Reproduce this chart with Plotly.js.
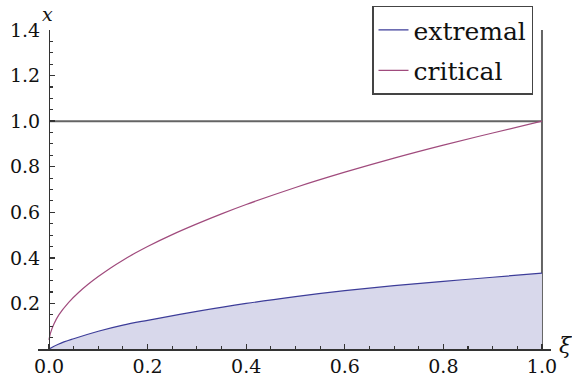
<!DOCTYPE html>
<html>
<head>
<meta charset="utf-8">
<script src="https://cdn.plot.ly/plotly-3.0.1.min.js"></script>
<style>html,body{margin:0;padding:0;background:#fff;}#chart{width:572px;height:381px;}</style>
</head>
<body>
<div id="chart"></div>
<script>
// ---- data ----
var xiCritical = [0, 0.003, 0.01, 0.02, 0.04, 0.06, 0.08, 0.1, 0.125, 0.15, 0.175, 0.2, 0.25, 0.3, 0.35, 0.4, 0.5, 0.6, 0.7, 0.8, 0.9, 1.0];
var critical   = [0.04, 0.07, 0.11, 0.15, 0.205, 0.248, 0.285, 0.318, 0.356, 0.390, 0.421, 0.450, 0.502, 0.549, 0.593, 0.634, 0.709, 0.776, 0.838, 0.895, 0.948, 1.0];
var xiExtremal = [0, 0.02, 0.05, 0.1, 0.15, 0.2, 0.3, 0.4, 0.5, 0.6, 0.7, 0.8, 0.9, 1.0];
var extremal   = [0.0, 0.022, 0.045, 0.078, 0.105, 0.126, 0.165, 0.200, 0.230, 0.256, 0.278, 0.297, 0.315, 0.333];
var seriesNames = ["extremal", "critical"];
var xTickVals = [0, 0.2, 0.4, 0.6, 0.8, 1.0];
var xTickText = ["0.0", "0.2", "0.4", "0.6", "0.8", "1.0"];
var yTickVals = [0.2, 0.4, 0.6, 0.8, 1.0, 1.2, 1.4];
var yTickText = ["0.2", "0.4", "0.6", "0.8", "1.0", "1.2", "1.4"];
var refLevel = 1.0;

var blue = "rgb(61,61,153)";
var pink = "rgb(160,75,125)";
var serif = "DejaVu Serif";

var traces = [
  {x: xiExtremal, y: extremal, mode: "lines", fill: "tozeroy",
   fillcolor: "rgb(216,216,235)", line: {width: 0, color: blue, shape: "spline"},
   showlegend: false, hoverinfo: "skip"},
  {x: xiExtremal, y: extremal, mode: "lines", name: seriesNames[0], legendgroup: "a",
   line: {color: blue, width: 1.2, shape: "spline"}},
  {x: xiCritical, y: critical, mode: "lines", name: seriesNames[1], legendgroup: "b",
   line: {color: pink, width: 1.2, shape: "spline"}}
];

var xr = [-0.0223, 1.0183];
var layout = {
  width: 572, height: 381,
  margin: {l: 38, r: 21, t: 29.5, b: 32, pad: 0, autoexpand: false},
  paper_bgcolor: "#fff", plot_bgcolor: "rgba(0,0,0,0)",
  font: {family: serif, size: 19, color: "#111"},
  xaxis: {
    range: xr, showgrid: false, zeroline: false,
    showline: true, linecolor: "#333", linewidth: 1.5,
    tickmode: "array", tickvals: xTickVals, ticktext: xTickText,
    ticks: "inside", ticklen: 5, tickwidth: 1.3, tickcolor: "#333",
    ticklabelstandoff: 0,
    minor: {tickmode: "linear", tick0: 0, dtick: 0.05, ticks: "inside", ticklen: 3, tickwidth: 1.1, tickcolor: "#333", showgrid: false},
    tickfont: {family: serif, size: 19, color: "#111"}
  },
  yaxis: {
    range: [0, 1.4], showgrid: false, zeroline: false,
    anchor: "free", position: (0 - xr[0]) / (xr[1] - xr[0]),
    showline: true, linecolor: "#333", linewidth: 1.5,
    tickmode: "array", tickvals: yTickVals, ticktext: yTickText,
    ticks: "inside", ticklen: 5, tickwidth: 1.3, tickcolor: "#333",
    ticklabelstandoff: 5,
    minor: {tickmode: "linear", tick0: 0, dtick: 0.05, ticks: "inside", ticklen: 3, tickwidth: 1.1, tickcolor: "#333", showgrid: false},
    tickfont: {family: serif, size: 19, color: "#111"}
  },
  shapes: [
    {type: "line", xref: "x", yref: "y", x0: 0, x1: 1, y0: refLevel, y1: refLevel,
     line: {color: "rgb(100,100,100)", width: 2}, layer: "below"},
    {type: "line", xref: "x", yref: "y", x0: 1, x1: 1, y0: 0, y1: 1.4,
     line: {color: "rgb(100,100,100)", width: 2}, layer: "below"}
  ],
  annotations: [
    {text: "<i>x</i>", xref: "paper", yref: "paper", x: (47 - 38) / 513, y: (349 - 0) / 319.5,
     xanchor: "center", yanchor: "top", showarrow: false,
     font: {family: serif, size: 19, color: "#111"}},
    {text: "<i>ξ</i>", xref: "paper", yref: "paper", x: (566 - 38) / 513, y: (349 - 345) / 319.5,
     xanchor: "center", yanchor: "middle", showarrow: false,
     font: {family: serif, size: 22, color: "#111"}}
  ],
  legend: {
    x: (372 - 38) / 513, y: (349 - 5) / 319.5, xanchor: "left", yanchor: "top",
    bgcolor: "#fff", bordercolor: "#444", borderwidth: 1.5,
    font: {family: serif, size: 25, color: "#111"},
    itemwidth: 30, tracegroupgap: 5, traceorder: "grouped"
  },
  showlegend: true
};

Plotly.newPlot("chart", traces, layout, {displayModeBar: false, staticPlot: true});
</script>
</body>
</html>
